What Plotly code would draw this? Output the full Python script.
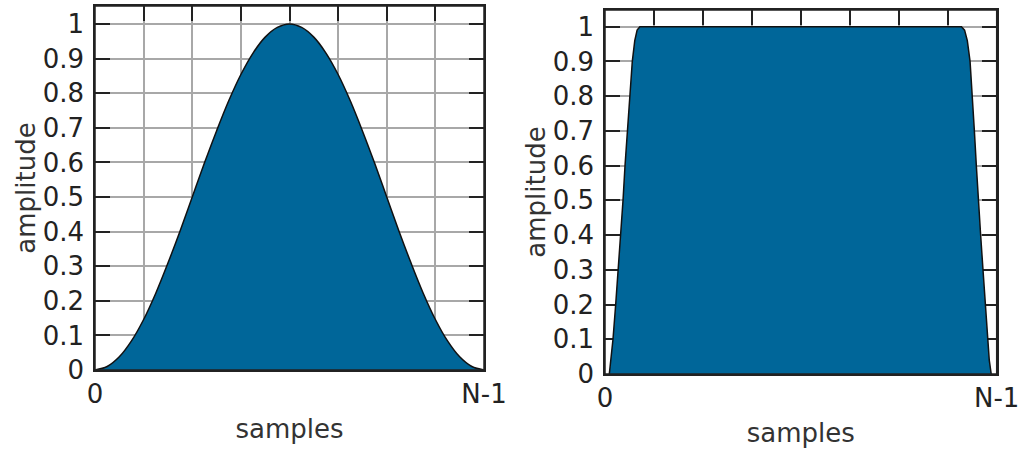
import numpy as np
import plotly.graph_objects as go

# Hann window, sampled at 33 evenly spaced positions across 0 .. N-1
hann_pos = np.linspace(0.0, 1.0, 33)
hann_amp = [0.000, 0.010, 0.038, 0.084, 0.146, 0.222, 0.309, 0.402, 0.500,
            0.598, 0.691, 0.778, 0.854, 0.916, 0.962, 0.990, 1.000, 0.990,
            0.962, 0.916, 0.854, 0.778, 0.691, 0.598, 0.500, 0.402, 0.309,
            0.222, 0.146, 0.084, 0.038, 0.010, 0.000]

# Flat window with short tapers at both ends
flat_pos = [0.011, 0.015, 0.0204, 0.0273, 0.034, 0.0401, 0.046, 0.0511, 0.057,
            0.0631, 0.0697, 0.076, 0.082, 0.089, 0.5, 0.910, 0.918, 0.925,
            0.932, 0.938, 0.943, 0.948, 0.953, 0.959, 0.965, 0.971, 0.976,
            0.981, 0.986]
flat_amp = [0.0, 0.04, 0.1, 0.2, 0.3, 0.4, 0.5, 0.6, 0.7, 0.8, 0.9, 0.96, 0.99,
            1.0, 1.0, 1.0, 0.99, 0.96, 0.9, 0.8, 0.7, 0.6, 0.5, 0.4, 0.3, 0.2,
            0.1, 0.04, 0.0]

y_ticks = [0, 0.1, 0.2, 0.3, 0.4, 0.5, 0.6, 0.7, 0.8, 0.9, 1]
y_labels = ["0", "0.1", "0.2", "0.3", "0.4", "0.5", "0.6", "0.7", "0.8", "0.9", "1"]
x_ticks = [0, 0.125, 0.25, 0.375, 0.5, 0.625, 0.75, 0.875, 1]
x_labels = ["0", "", "", "", "", "", "", "", "N-1"]

FILL = "#006699"
FONT = "DejaVu Sans"
W, H = 1021, 450

fig = go.Figure()
fig.add_trace(go.Scatter(x=hann_pos, y=hann_amp, mode="lines", fill="tozeroy",
                         fillcolor=FILL, line=dict(color="#111", width=1.5, shape="spline"),
                         xaxis="x", yaxis="y", showlegend=False, hoverinfo="skip"))
fig.add_trace(go.Scatter(x=flat_pos, y=flat_amp, mode="lines", fill="tozeroy",
                         fillcolor=FILL, line=dict(color="#111", width=1.5),
                         xaxis="x2", yaxis="y2", showlegend=False, hoverinfo="skip"))

# axes (ticks, grid) sit beneath the filled area; the frame is redrawn on top
axis_common = dict(
    showline=True, linecolor="#222", linewidth=1.5, mirror="ticks",
    ticks="inside", ticklen=15, tickwidth=1.5, tickcolor="#222",
    showgrid=True, gridcolor="#a8a8a8", gridwidth=1.5, zeroline=False,
    layer="below traces",
    tickfont=dict(family=FONT, size=26, color="#222"), automargin=False,
)

def xaxis(domain, anchor):
    return dict(axis_common, domain=domain, anchor=anchor, range=[0, 1],
                tickmode="array", tickvals=x_ticks, ticktext=x_labels,
                ticklabelstandoff=0,
                title=dict(text="samples", standoff=12,
                           font=dict(family=FONT, size=26, color="#333")))

def yaxis(domain, anchor, top):
    return dict(axis_common, domain=domain, anchor=anchor, range=[0, top],
                tickmode="array", tickvals=y_ticks, ticktext=y_labels,
                ticklabelstandoff=4,
                title=dict(text="amplitude", standoff=0,
                           font=dict(family=FONT, size=26, color="#333")))

frames = [
    dict(type="rect", xref="x domain", yref="y domain", x0=0, x1=1, y0=0, y1=1,
         line=dict(color="#222", width=1.5), layer="above"),
    dict(type="rect", xref="x2 domain", yref="y2 domain", x0=0, x1=1, y0=0, y1=1,
         line=dict(color="#222", width=1.5), layer="above"),
]

fig.update_layout(
    width=W, height=H, margin=dict(l=0, r=0, t=0, b=0),
    paper_bgcolor="white", plot_bgcolor="white",
    xaxis=xaxis([95 / W, 484 / W], "y"),
    yaxis=yaxis([1 - 370 / H, 1 - 6 / H], "x", 1.052),
    xaxis2=xaxis([605 / W, 996.7 / W], "y2"),
    yaxis2=yaxis([1 - 374 / H, 1 - 10 / H], "x2", 1.048),
    shapes=frames,
)

fig.write_html("out.html")
